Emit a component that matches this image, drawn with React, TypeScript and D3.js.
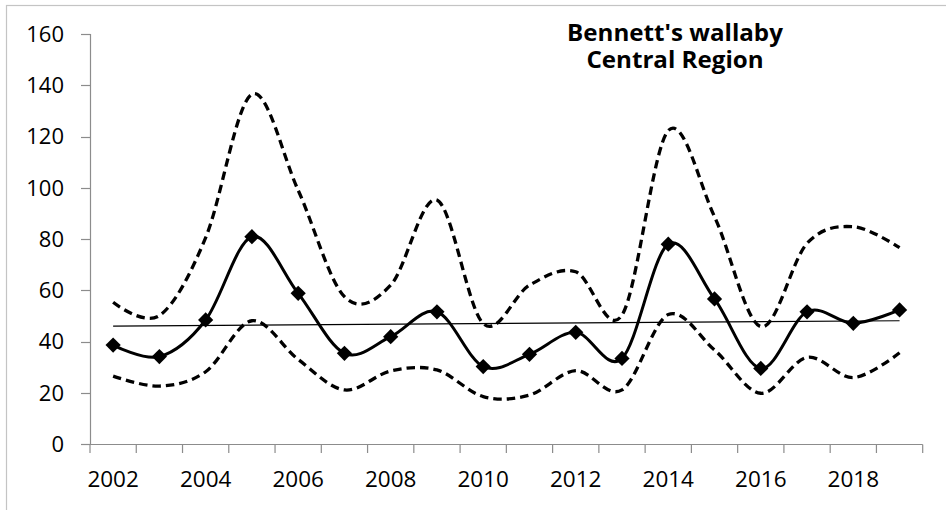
import React from "react";
import * as d3 from "d3";

const years = [2002, 2003, 2004, 2005, 2006, 2007, 2008, 2009, 2010, 2011, 2012, 2013, 2014, 2015, 2016, 2017, 2018, 2019];
const meanValues = [38.6, 34.1, 48.4, 80.9, 58.8, 35.4, 41.9, 51.6, 30.2, 35.0, 43.6, 33.4, 78.0, 56.6, 29.5, 51.6, 47.1, 52.3];
const upperValues = [55.3, 50.1, 80.5, 136.5, 99.0, 57.5, 62.0, 95.2, 47.0, 62.0, 67.2, 50.3, 122.3, 88.7, 45.8, 78.3, 84.8, 76.6];
const lowerValues = [26.5, 22.6, 28.2, 48.1, 33.0, 21.1, 28.5, 28.9, 18.5, 19.1, 28.6, 21.1, 50.5, 36.7, 19.8, 33.8, 25.9, 35.6];
const yTicks = [0, 20, 40, 60, 80, 100, 120, 140, 160];
const xLabelYears = [2002, 2004, 2006, 2008, 2010, 2012, 2014, 2016, 2018];
const titleLines = ["Bennett's wallaby", "Central Region"];

const W = 946;
const H = 510;
const FONT = "'Open Sans', 'Liberation Sans', sans-serif";
const AXIS = "#8c8c8c";

export default function App() {
  const x = d3.scaleBand<number>().domain(years).range([90, 922.7]).padding(0);
  const bw = x.bandwidth();
  const cx = (yr: number) => (x(yr) as number) + bw / 2;
  const y = d3.scaleLinear().domain([0, 160]).range([444, 34]);

  const line = d3
    .line<number>()
    .x((_, i) => cx(years[i]))
    .y((v) => y(v))
    .curve(d3.curveCatmullRom.alpha(0));

  // linear trendline (least squares over category index)
  const n = meanValues.length;
  const xs = d3.range(n);
  const mx = d3.mean(xs) as number;
  const my = d3.mean(meanValues) as number;
  const slope =
    (d3.sum(xs, (i) => (i - mx) * (meanValues[i] - my)) as number) /
    (d3.sum(xs, (i) => (i - mx) * (i - mx)) as number);
  const intercept = my - slope * mx;
  const trendStart = intercept;
  const trendEnd = intercept + slope * (n - 1);

  const diamond = d3.symbol().type(d3.symbolSquare).size(116)();

  const boundaries = [...years.map((yr) => x(yr) as number), (x(years[n - 1]) as number) + bw];

  return (
    <svg
      width={W}
      height={H}
      style={{ position: "absolute", left: 0, top: 0, background: "#fff" }}
      fontFamily={FONT}
    >
      <rect x={6.5} y={5.5} width={1200} height={1200} fill="#fff" stroke="#c4c4c4" strokeWidth={1.2} />

      {/* Y axis */}
      <line x1={90.5} x2={90.5} y1={y(160)} y2={y(0)} stroke={AXIS} strokeWidth={1.2} />
      {yTicks.map((t) => (
        <g key={t}>
          <line x1={81} x2={90.5} y1={Math.round(y(t)) + 0.5} y2={Math.round(y(t)) + 0.5} stroke={AXIS} strokeWidth={1.2} />
          <text x={64} y={y(t)} dy="0.36em" textAnchor="end" fontSize={22} fill="#000">
            {t}
          </text>
        </g>
      ))}

      {/* X axis */}
      <line x1={90} x2={922.7} y1={444.5} y2={444.5} stroke={AXIS} strokeWidth={1.2} />
      {boundaries.map((b, i) => (
        <line key={i} x1={b} x2={b} y1={444.5} y2={453} stroke={AXIS} strokeWidth={1.2} />
      ))}
      {xLabelYears.map((yr) => (
        <text key={yr} x={cx(yr)} y={486.5} textAnchor="middle" fontSize={22.5} fill="#000">
          {yr}
        </text>
      ))}

      {/* Confidence bounds */}
      <path d={line(upperValues) as string} fill="none" stroke="#000" strokeWidth={3.3} strokeDasharray="8.5 5" />
      <path d={line(lowerValues) as string} fill="none" stroke="#000" strokeWidth={3.3} strokeDasharray="8.5 5" />

      {/* Trendline */}
      <line
        x1={cx(years[0])}
        x2={cx(years[n - 1])}
        y1={y(trendStart)}
        y2={y(trendEnd)}
        stroke="#000"
        strokeWidth={1.1}
      />

      {/* Mean line */}
      <path d={line(meanValues) as string} fill="none" stroke="#000" strokeWidth={3} />
      {meanValues.map((v, i) => (
        <path
          key={i}
          d={diamond as string}
          transform={`translate(${cx(years[i])},${y(v)}) rotate(45)`}
          fill="#000"
        />
      ))}

      {/* Title (single text block, two lines) */}
      <text
        transform="translate(675,41) scale(1.05,1)"
        textAnchor="middle"
        fontSize={23}
        fontWeight="bold"
        fill="#000"
      >
        {titleLines.map((t, i) => (
          <tspan key={i} x={0} dy={i === 0 ? 0 : 27.5}>
            {t}
          </tspan>
        ))}
      </text>
    </svg>
  );
}
